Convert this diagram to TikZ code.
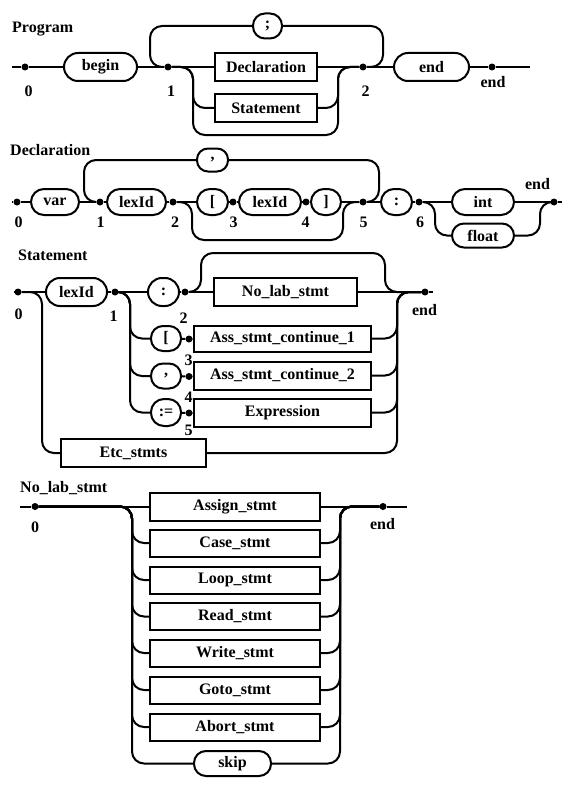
\documentclass[tikz,border=0pt]{standalone}
\usepackage{fontspec}
\setmainfont{Liberation Serif}
\tikzstyle{nonterm}=[draw, line width=2pt, inner sep=0pt, minimum height=28pt]
\tikzstyle{term}=[draw, line width=2pt, rounded corners=13pt, inner sep=0pt, minimum height=26pt]
\tikzstyle{junction}=[circle, fill=black, inner sep=0pt, minimum size=7pt]
\tikzstyle{state}=[inner sep=0pt]
\tikzstyle{wire}=[line width=2pt, rounded corners=12pt]

\begin{document}
\begin{tikzpicture}[x=1pt,y=-1pt,font=\bfseries\fontsize{16}{19}\selectfont]
    \useasboundingbox (0,0) rectangle (575,789);

    % Program
    \draw (12,29) node[state,anchor=west] (program) {Program};
    \coordinate (p-in) at (12,67);
    \coordinate (p-out) at (530,67);
    \draw (25,67) node[junction] (p0) {};
    \draw (100.5,67) node[term,minimum width=73pt,minimum height=28pt,rounded corners=14pt] (begin) {begin};
    \draw (168,67) node[junction] (p1) {};
    \draw (266,67) node[nonterm,minimum width=102pt] (decl) {Declaration};
    \draw (266,108) node[nonterm,minimum width=102pt] (stmt) {Statement};
    \draw (267.5,26) node[term,minimum width=29pt,minimum height=25pt,rounded corners=12pt] (semi) {;};
    \draw (363,67) node[junction] (p2) {};
    \draw (431.5,67) node[term,minimum width=75pt,minimum height=28pt,rounded corners=14pt] (end) {end};
    \draw (492,67) node[junction] (pe) {};
    \draw (28.5,91) node[state] (p0-lbl) {0};
    \draw (171,91) node[state] (p1-lbl) {1};
    \draw (365.5,91) node[state] (p2-lbl) {2};
    \draw (493,82.5) node[state] (pe-lbl) {end};

    \draw[wire] (p-in) -- (p0) -- (begin) -- (p1) -- (decl) -- (p2) -- (end) -- (pe) -- (p-out);
    \draw[wire] (p1) -- (150,67) -- (150,26) -- (semi);
    \draw[wire] (semi) -- (383,26) -- (383,67) -- (p2);
    \draw[wire] (p1) -- (193,67) -- (193,108) -- (stmt);
    \draw[wire] (stmt) -- (338,108) -- (338,67) -- (p2);
    \draw[wire] (p1) -- (193,67) -- (193,135) -- (338,135) -- (338,67) -- (p2);

    % Declaration
    \draw (10,150) node[state,anchor=west] (declaration) {Declaration};
    \coordinate (d-in) at (12,202);
    \coordinate (d-out) at (562,202);
    \draw (17,202) node[junction] (d0) {};
    \draw (55,202) node[term,minimum width=48pt] (var) {var};
    \draw (100,202) node[junction] (d1) {};
    \draw (136.5,202) node[term,minimum width=59pt] (lex1) {lexId};
    \draw (173,202) node[junction] (d2) {};
    \draw (212.5,202) node[term,minimum width=31pt] (lbr) {[};
    \draw (233,202) node[junction] (d3) {};
    \draw (270,202) node[term,minimum width=62pt] (lex2) {lexId};
    \draw (306,202) node[junction] (d4) {};
    \draw (326,202) node[term,minimum width=30pt] (rbr) {]};
    \draw (363,202) node[junction] (d5) {};
    \draw (396.5,202) node[term,minimum width=31pt] (colon) {:};
    \draw (419,202) node[junction] (d6) {};
    \draw (483,202) node[term,minimum width=62pt] (int) {int};
    \draw (483,235.5) node[term,minimum width=62pt,minimum height=24pt,rounded corners=12pt] (float) {float};
    \draw (212.5,160) node[term,minimum width=31pt,minimum height=23pt,rounded corners=11pt] (comma) {,};
    \draw (554,202) node[junction] (de) {};
    \draw (18.5,222.5) node[state] (d0-lbl) {0};
    \draw (100.5,222.5) node[state] (d1-lbl) {1};
    \draw (175,222.5) node[state] (d2-lbl) {2};
    \draw (233.5,222.5) node[state] (d3-lbl) {3};
    \draw (305.5,222.5) node[state] (d4-lbl) {4};
    \draw (363.5,222.5) node[state] (d5-lbl) {5};
    \draw (420,222.5) node[state] (d6-lbl) {6};
    \draw (537.5,184) node[state] (de-lbl) {end};

    \draw[wire] (d-in) -- (d0) -- (var) -- (d1) -- (lex1) -- (d2) -- (lbr) -- (d3) -- (lex2) -- (d4) -- (rbr) -- (d5) -- (colon) -- (d6) -- (int) -- (de) -- (d-out);
    \draw[wire] (d5) -- (379,202) -- (379,160) -- (comma);
    \draw[wire] (comma) -- (84,160) -- (84,202) -- (d1);
    \draw[wire] (d2) -- (192,202) -- (192,240) -- (343,240) -- (343,202) -- (d5);
    \draw[wire] (d6) -- (435,202) -- (435,235.5) -- (float);
    \draw[wire] (float) -- (540,235.5) -- (540,202) -- (de);

    % Statement
    \draw (18,255) node[state,anchor=west] (statement) {Statement};
    \coordinate (s-in) at (14,292);
    \coordinate (s-out) at (433,292);
    \draw (18,292) node[junction] (s0) {};
    \draw (76.5,292) node[term,minimum width=61pt,minimum height=28pt,rounded corners=14pt] (lexid) {lexId};
    \draw (115,292) node[junction] (s1) {};
    \draw (163.5,292) node[term,minimum width=31pt,minimum height=28pt,rounded corners=14pt] (scolon) {:};
    \draw (185,292) node[junction] (s2) {};
    \draw (285.5,292) node[nonterm,minimum width=143pt] (nolab) {No\_lab\_stmt};
    \draw (425,292) node[junction] (se) {};
    \draw (166,338.5) node[term,minimum width=30pt,minimum height=25pt,rounded corners=12pt] (sbr) {[};
    \draw (189,339) node[junction] (s3) {};
    \draw (282.5,338.5) node[nonterm,minimum width=177pt,minimum height=26pt] (cont1) {Ass\_stmt\_continue\_1};
    \draw (166,376) node[term,minimum width=30pt,minimum height=25pt,rounded corners=12pt] (scomma) {,};
    \draw (189,376.5) node[junction] (s4) {};
    \draw (282.5,375.5) node[nonterm,minimum width=177pt] (cont2) {Ass\_stmt\_continue\_2};
    \draw (166,412.5) node[term,minimum width=30pt,minimum height=27pt,rounded corners=13pt] (assign) {:=};
    \draw (189,413) node[junction] (s5) {};
    \draw (282.5,412.5) node[nonterm,minimum width=177pt] (expr) {Expression};
    \draw (133.5,453) node[nonterm,minimum width=145pt] (etc) {Etc\_stmts};
    \draw (18.5,314.5) node[state] (s0-lbl) {0};
    \draw (113.5,316.5) node[state] (s1-lbl) {1};
    \draw (183.5,318) node[state] (s2-lbl) {2};
    \draw (188.5,360) node[state] (s3-lbl) {3};
    \draw (188.5,397) node[state] (s4-lbl) {4};
    \draw (188.5,430) node[state] (s5-lbl) {5};
    \draw (424.5,310) node[state] (se-lbl) {end};

    \draw[wire] (s-in) -- (s0) -- (lexid) -- (s1) -- (scolon) -- (s2) -- (nolab) -- (se) -- (s-out);
    \draw[wire] (s2) -- (201,292) -- (201,253) -- (385,253) -- (385,292) -- (se);
    \draw[wire] (s1) -- (130,292) -- (130,338.5) -- (sbr);
    \draw[wire] (s1) -- (130,292) -- (130,376) -- (scomma);
    \draw[wire] (s1) -- (130,292) -- (130,412.5) -- (assign);
    \draw[wire] (sbr) -- (s3) -- (cont1);
    \draw[wire] (scomma) -- (s4) -- (cont2);
    \draw[wire] (assign) -- (s5) -- (expr);
    \draw[wire] (cont1) -- (397,338.5) -- (397,292) -- (se);
    \draw[wire] (cont2) -- (397,375.5) -- (397,292) -- (se);
    \draw[wire] (expr) -- (397,412.5) -- (397,292) -- (se);
    \draw[wire] (s0) -- (42,292) -- (42,453) -- (etc);
    \draw[wire] (etc) -- (397,453) -- (397,292) -- (se);

    % No_lab_stmt
    \draw (20,488) node[state,anchor=west] (nolabstmt) {No\_lab\_stmt};
    \coordinate (n-in) at (20,506.5);
    \coordinate (n-out) at (407,506.5);
    \draw (35,506.5) node[junction] (n0) {};
    \draw (383,506.5) node[junction] (ne) {};
    \draw (235,506.5) node[nonterm,minimum width=170pt] (asg) {Assign\_stmt};
    \draw (235,543) node[nonterm,minimum width=170pt,minimum height=27pt] (case) {Case\_stmt};
    \draw (235,580) node[nonterm,minimum width=170pt,minimum height=27pt] (loop) {Loop\_stmt};
    \draw (235,616.5) node[nonterm,minimum width=170pt,minimum height=27pt] (read) {Read\_stmt};
    \draw (235,653) node[nonterm,minimum width=170pt,minimum height=27pt] (write) {Write\_stmt};
    \draw (235,690) node[nonterm,minimum width=170pt,minimum height=27pt] (goto) {Goto\_stmt};
    \draw (235,727) node[nonterm,minimum width=170pt,minimum height=27pt] (abort) {Abort\_stmt};
    \draw (232.5,763.5) node[term,minimum width=77pt,minimum height=25pt,rounded corners=12pt] (skip) {skip};
    \draw (35,527.5) node[state] (n0-lbl) {0};
    \draw (382.5,524) node[state] (ne-lbl) {end};

    \draw[wire] (n-in) -- (n0) -- (asg) -- (ne) -- (n-out);
    \draw[wire] (n0) -- (132,506.5) -- (132,543) -- (case);
    \draw[wire] (n0) -- (132,506.5) -- (132,580) -- (loop);
    \draw[wire] (n0) -- (132,506.5) -- (132,616.5) -- (read);
    \draw[wire] (n0) -- (132,506.5) -- (132,653) -- (write);
    \draw[wire] (n0) -- (132,506.5) -- (132,690) -- (goto);
    \draw[wire] (n0) -- (132,506.5) -- (132,727) -- (abort);
    \draw[wire] (n0) -- (132,506.5) -- (132,763.5) -- (skip);
    \draw[wire] (case) -- (340,543) -- (340,506.5) -- (ne);
    \draw[wire] (loop) -- (340,580) -- (340,506.5) -- (ne);
    \draw[wire] (read) -- (340,616.5) -- (340,506.5) -- (ne);
    \draw[wire] (write) -- (340,653) -- (340,506.5) -- (ne);
    \draw[wire] (goto) -- (340,690) -- (340,506.5) -- (ne);
    \draw[wire] (abort) -- (340,727) -- (340,506.5) -- (ne);
    \draw[wire] (skip) -- (340,763.5) -- (340,506.5) -- (ne);
\end{tikzpicture}
\end{document}
